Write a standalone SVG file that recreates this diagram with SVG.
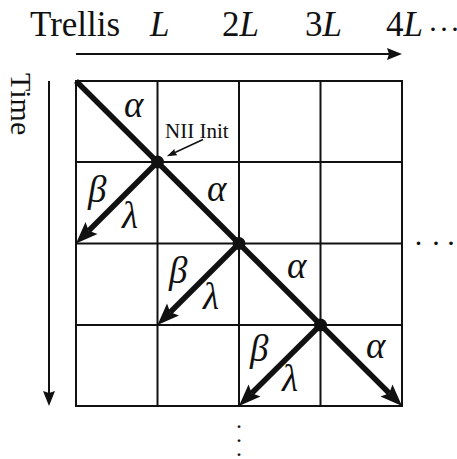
<svg xmlns="http://www.w3.org/2000/svg" width="457" height="459" viewBox="0 0 457 459">
<defs>
<style>
.t{font-family:"Liberation Serif","Times New Roman",serif;font-size:35px;fill:#111}
.g{font-family:"Liberation Serif","Times New Roman",serif;font-size:37px;font-style:italic;fill:#111}
.d{font-family:"Liberation Serif","Times New Roman",serif;font-size:30px;fill:#111}
.i{font-style:italic}
.s{font-family:"Liberation Serif","Times New Roman",serif;font-size:21px;fill:#111}
.grid{stroke:#111;stroke-width:2;fill:none}
.thick{stroke:#111;stroke-width:5.5;fill:none}
.thin{stroke:#111;stroke-width:2;fill:none}
.fine{stroke:#111;stroke-width:1.5;fill:none}
</style>
<marker id="big" markerUnits="userSpaceOnUse" markerWidth="30" markerHeight="20" refX="4" refY="0" viewBox="0 -10 24 20" orient="auto" overflow="visible">
<path d="M0,-8.5 L22,0 L0,8.5 L4,0 Z" fill="#111"/>
</marker>
<marker id="mid" markerUnits="userSpaceOnUse" markerWidth="20" markerHeight="14" refX="2" refY="0" viewBox="0 -7 16 14" orient="auto" overflow="visible">
<path d="M0,-6 L15,0 L0,6 L2,0 Z" fill="#111"/>
</marker>
<marker id="small" markerUnits="userSpaceOnUse" markerWidth="12" markerHeight="10" refX="1" refY="0" viewBox="0 -5 12 10" orient="auto" overflow="visible">
<path d="M0,-3.5 L10,0 L0,3.5 L1,0 Z" fill="#111"/>
</marker>
</defs>

<g id="axes">
<text class="t" x="30" y="36">Trellis</text>
<text class="t i" x="150" y="36">L</text>
<text class="t" x="222" y="36">2<tspan class="i">L</tspan></text>
<text class="t" x="305" y="36">3<tspan class="i">L</tspan></text>
<text class="t" x="386" y="36">4<tspan class="i">L</tspan></text>
<text class="d" x="428" y="39">·<tspan dx="1">·</tspan><tspan dx="1">·</tspan></text>
<text class="t" style="font-size:30px" transform="translate(11,73) rotate(90)">Time</text>
</g>

<g id="grid">
<rect class="grid" x="76" y="81" width="326" height="325"/>
<line class="grid" x1="157.5" y1="81" x2="157.5" y2="406"/>
<line class="grid" x1="239" y1="81" x2="239" y2="406"/>
<line class="grid" x1="320.5" y1="81" x2="320.5" y2="406"/>
<line class="grid" x1="76" y1="162" x2="402" y2="162"/>
<line class="grid" x1="76" y1="243.5" x2="402" y2="243.5"/>
<line class="grid" x1="76" y1="325" x2="402" y2="325"/>
</g>

<g id="connectors">
<line class="thin" x1="76" y1="54" x2="389" y2="54" marker-end="url(#mid)"/>
<line class="thin" x1="49" y1="81" x2="49" y2="393" marker-end="url(#mid)"/>
<line class="thick" x1="76" y1="81" x2="389.3" y2="393.3" marker-end="url(#big)"/>
<line class="thick" x1="157.5" y1="162" x2="88.7" y2="230.8" marker-end="url(#big)"/>
<line class="thick" x1="239" y1="243.5" x2="170.2" y2="312.3" marker-end="url(#big)"/>
<line class="thick" x1="320.5" y1="325" x2="251.7" y2="393.3" marker-end="url(#big)"/>
<line class="fine" x1="203" y1="139.5" x2="175" y2="152.5" marker-end="url(#small)"/>
</g>

<g id="node1">
<circle cx="157.5" cy="162" r="6.5" fill="#111"/>
<text class="s" x="165" y="138">NII Init</text>
</g>
<g id="node2">
<circle cx="239" cy="243.5" r="6.5" fill="#111"/>
</g>
<g id="node3">
<circle cx="320.5" cy="325" r="6.5" fill="#111"/>
</g>

<g id="labels">
<text class="g" x="124" y="117">α</text>
<text class="g" x="207" y="201">α</text>
<text class="g" x="287" y="278">α</text>
<text class="g" x="366" y="358">α</text>
<text class="g" x="88" y="202">β</text>
<text class="g" x="169" y="283">β</text>
<text class="g" x="250" y="361">β</text>
<text class="g" x="122" y="228">λ</text>
<text class="g" x="203" y="309">λ</text>
<text class="g" x="282" y="391">λ</text>
<text class="d" x="413.5" y="253">·<tspan dx="7.5">·</tspan><tspan dx="5">·</tspan></text>
<text class="d" x="239" text-anchor="middle" style="font-size:24px"><tspan x="239" y="434">·</tspan><tspan x="239" y="448">·</tspan><tspan x="239" y="462">·</tspan></text>
</g>
</svg>
